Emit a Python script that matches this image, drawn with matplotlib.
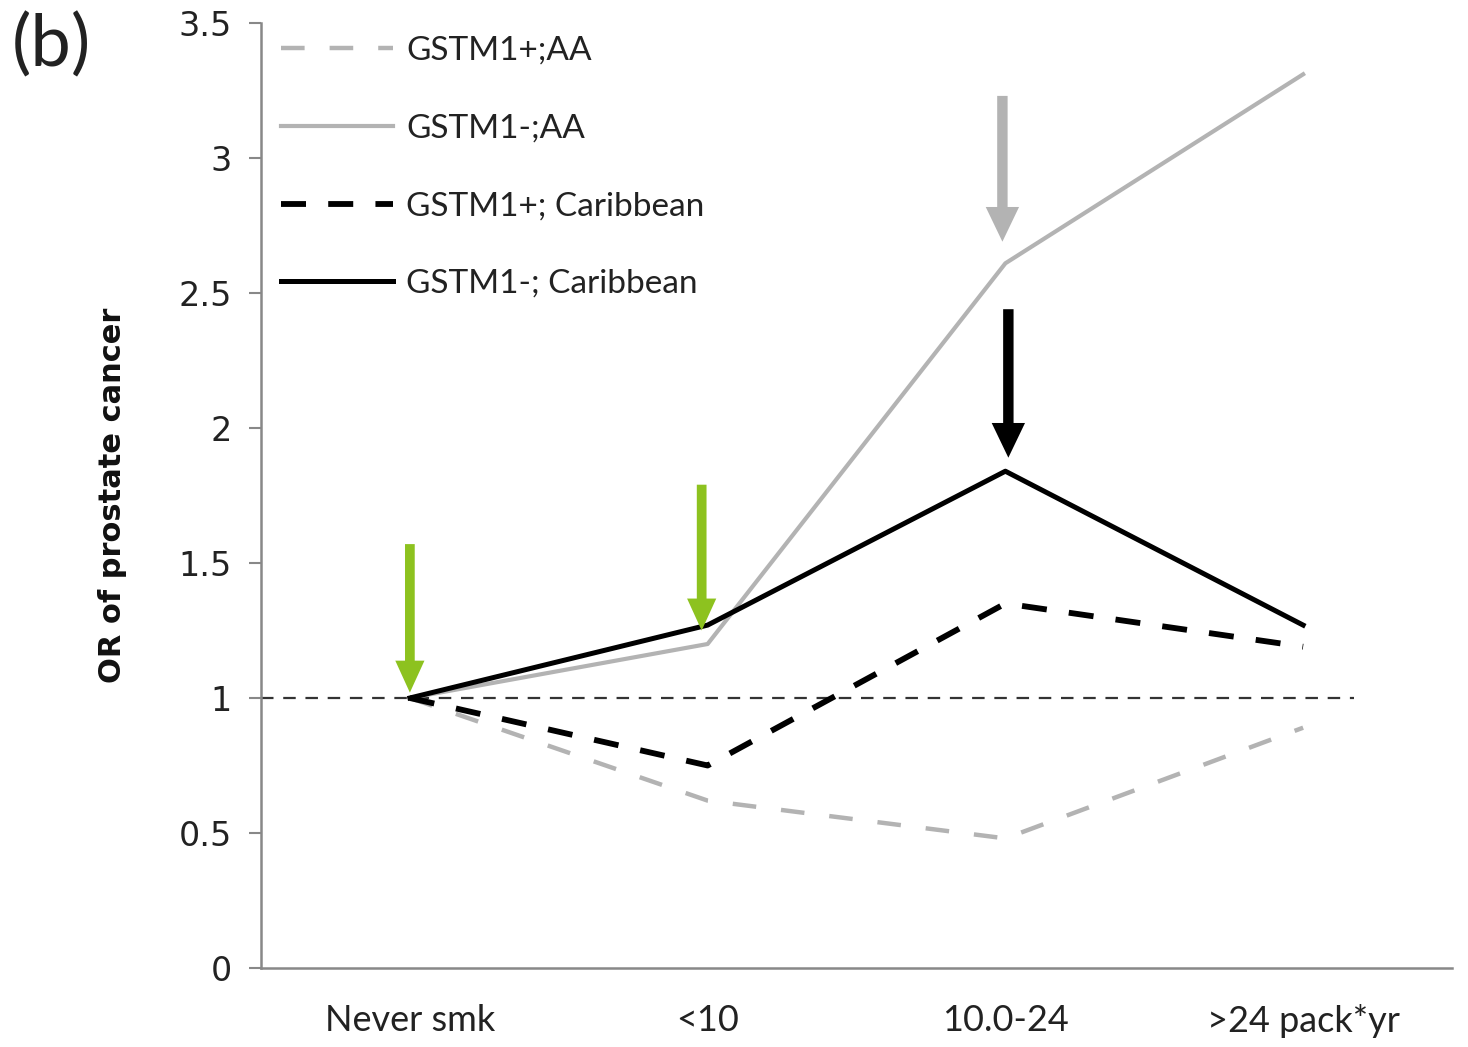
import matplotlib
matplotlib.use("Agg")
import matplotlib.pyplot as plt

plt.rcParams['lines.scale_dashes'] = False

categories = ["Never smk", "<10", "10.0-24", ">24 pack*yr"]
gstm1_pos_aa = [1.0, 0.62, 0.48, 0.89]
gstm1_neg_aa = [1.0, 1.20, 2.61, 3.31]
gstm1_pos_car = [1.0, 0.75, 1.35, 1.19]
gstm1_neg_car = [1.0, 1.27, 1.84, 1.27]
series_labels = ["GSTM1+;AA", "GSTM1-;AA", "GSTM1+; Caribbean", "GSTM1-; Caribbean"]
yticks = [0, 0.5, 1, 1.5, 2, 2.5, 3, 3.5]
ytick_labels = ["0", "0.5", "1", "1.5", "2", "2.5", "3", "3.5"]

GRAY = "#b3b3b3"
GREEN = "#8dc21f"

fig = plt.figure(figsize=(14.68, 10.47), dpi=100)
ax = fig.add_axes([261/1468, 79/1047, (1452-261)/1468, (1024-79)/1047])

x = list(range(len(categories)))

ax.plot([-0.5, 3.17], [1, 1], color="#333333", lw=1.6, dashes=(9, 7), zorder=1)

ax.plot(x, gstm1_pos_aa, color=GRAY, lw=3.2, dashes=(17, 18), label=series_labels[0], zorder=2)
ax.plot(x, gstm1_neg_aa, color=GRAY, lw=3.0, label=series_labels[1], zorder=2)
ax.plot(x, gstm1_pos_car, color="black", lw=4.2, dashes=(18, 16), label=series_labels[2], zorder=3)
ax.plot(x, gstm1_neg_car, color="black", lw=3.6, label=series_labels[3], zorder=3)

def arrow(xp, y0, y1, color, w, hw, hl):
    ax.annotate("", xy=(xp, y1), xytext=(xp, y0),
                arrowprops=dict(width=w, headwidth=hw, headlength=hl, color=color,
                                shrink=0, lw=0), zorder=5)

arrow(0.0, 1.57, 1.02, GREEN, 7, 21, 23)
arrow(0.98, 1.79, 1.25, GREEN, 7, 21, 23)
arrow(1.99, 3.23, 2.69, GRAY, 7.5, 24, 25)
arrow(2.01, 2.44, 1.89, "black", 7.5, 24, 25)

ax.set_xlim(-0.5, 3.5)
ax.set_ylim(0, 3.5)
ax.set_xticks(x)
ax.set_xticklabels(categories, fontfamily="Lato", fontsize=26, color="#222222")
ax.tick_params(axis="x", length=0, pad=26)
ax.set_yticks(yticks)
ax.set_yticklabels(ytick_labels, fontfamily="DejaVu Sans", fontsize=24, color="#222222")
ax.tick_params(axis="y", length=9, width=1.5, color="#888888", pad=12)

for s in ["top", "right"]:
    ax.spines[s].set_visible(False)
for s in ["left", "bottom"]:
    ax.spines[s].set_color("#888888")
    ax.spines[s].set_linewidth(1.8)

ax.set_ylabel("OR of prostate cancer", fontfamily="DejaVu Sans", fontweight="bold",
              fontsize=22, color="#111111")
ax.yaxis.set_label_coords(-134/1191, 0.5)

leg = ax.legend(loc="upper left", bbox_to_anchor=(-0.008, 1.018), frameon=False,
                prop={"family": "Lato", "size": 24}, handlelength=3.35,
                handletextpad=0.4, labelspacing=1.43)
for t in leg.get_texts():
    t.set_color("#222222")

fig.text(12/1468, 1 - 45/1047, "(b)", fontsize=52, fontfamily="Lato", va="center", ha="left",
         color="#222222")

fig.savefig("out.png", dpi=100)
